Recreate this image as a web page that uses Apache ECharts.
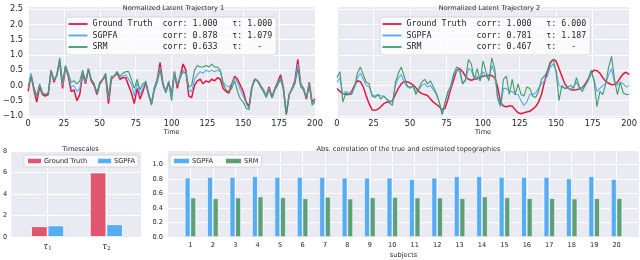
<!DOCTYPE html>
<html><head><meta charset="utf-8">
<script src="https://cdn.jsdelivr.net/npm/echarts@6/dist/echarts.min.js"></script>
<style>html,body{margin:0;padding:0;background:#fff}#c{width:640px;height:260px}</style>
</head><body><div id="c"></div>
<script>
const time = [0,2,4,6,8,10,12,14,16,18,20,22,24,26,28,30,32,34,36,38,40,42,44,46,48,50,52,54,56,58,60,62,64,66,68,70,72,74,76,78,80,82,84,86,88,90,92,94,96,98,100,102,104,106,108,110,112,114,116,118,120,122,124,126,128,130,132,134,136,138,140,142,144,146,148,150,152,154,156,158,160,162,164,166,168,170,172,174,176,178,180,182,184,186,188,190,192,194,196,198,200];

const traj1GT = [-0.2,0.35,-0.15,-0.55,-0.05,-0.3,-0.35,-0.3,0.5,0.1,0.35,0.8,-0.1,0.6,0.3,-0.2,-0.15,-0.5,-0.3,0.4,0.05,0.55,0.15,0.0,-0.3,0.05,0.2,0.3,-0.6,0.2,0.3,0.4,0.2,0.25,0.25,0.0,-0.25,-0.6,-0.1,-0.45,-0.2,0.1,-0.3,-0.6,-0.1,0.2,0.75,0.05,-0.2,0.1,-0.3,0.45,-0.1,0.3,0.7,0.5,-0.35,-0.4,0.0,0.15,0.2,0.05,0.15,0.1,0.2,0.15,0.25,0.2,-0.1,-0.2,-0.25,0.05,0.3,0.2,0.0,-0.2,-0.55,-0.7,-0.05,0.2,0.15,0.0,-0.15,-0.35,-0.05,-0.4,-0.1,0.1,0.35,-0.1,-0.95,-0.3,-0.1,0.15,0.85,0.05,-0.1,-0.45,0.1,-0.55,-0.45];
const traj1SGPFA = [-0.1,0.4,-0.1,-0.4,0.0,-0.25,-0.3,-0.25,0.5,0.15,0.35,0.8,0.0,0.6,0.35,-0.05,0.0,-0.2,-0.1,0.45,0.1,0.55,0.2,0.05,-0.25,0.1,0.2,0.35,-0.45,0.25,0.3,0.45,0.25,0.3,0.35,0.2,0.05,-0.35,0.1,-0.3,-0.1,0.15,-0.25,-0.6,-0.05,0.2,0.6,0.05,-0.2,0.15,-0.35,0.45,0.0,0.3,0.5,0.45,-0.15,-0.2,0.2,0.35,0.45,0.4,0.5,0.45,0.5,0.45,0.5,0.45,0.1,0.0,-0.05,0.05,0.25,0.1,-0.15,-0.35,-0.6,-0.75,-0.05,0.2,0.15,0.0,-0.15,-0.35,-0.1,-0.4,-0.1,0.05,0.25,-0.1,-0.85,-0.3,-0.1,0.1,0.7,0.05,-0.1,-0.4,0.05,-0.6,-0.5];
const traj1SRM = [-0.05,0.3,-0.05,-0.35,0.05,-0.25,-0.3,-0.25,0.45,0.2,0.3,0.9,0.1,0.65,0.4,0.1,0.15,0.05,0.15,0.5,0.15,0.5,0.2,0.05,-0.25,0.1,0.2,0.4,-0.35,0.3,0.3,0.45,0.3,0.4,0.45,0.45,0.2,-0.1,0.2,-0.15,0.05,0.1,-0.3,-0.65,-0.15,0.1,0.5,0.0,-0.25,0.1,-0.5,0.35,0.05,0.25,0.45,0.4,-0.05,0.0,0.5,0.65,0.6,0.6,0.65,0.6,0.7,0.6,0.6,0.5,0.05,-0.15,-0.2,-0.1,0.15,-0.2,-0.45,-0.55,-0.75,-0.8,-0.1,0.2,0.15,-0.05,-0.2,-0.4,-0.15,-0.4,-0.15,0.0,0.2,-0.15,-0.95,-0.3,-0.15,0.05,0.55,-0.05,-0.15,-0.4,0.0,-0.65,-0.55];

const traj2GT = [-0.1,-0.2,-0.27,-0.3,-0.3,-0.2,0.0,0.15,0.12,-0.05,-0.35,-0.6,-0.8,-0.82,-0.78,-0.7,-0.6,-0.55,-0.55,-0.5,-0.3,-0.1,0.05,0.13,0.12,0.08,0.02,-0.08,-0.2,-0.27,-0.3,-0.33,-0.45,-0.55,-0.62,-0.7,-0.8,-0.75,-0.45,-0.1,0.2,0.5,0.55,0.45,0.3,0.2,0.17,0.2,0.22,0.27,0.3,0.32,0.33,0.32,0.25,-0.05,-0.55,-0.68,-0.7,-0.68,-0.68,-0.8,-0.9,-0.93,-0.9,-0.87,-0.85,-0.78,-0.7,-0.55,-0.3,0.1,0.45,0.75,0.85,0.8,0.55,0.3,0.05,-0.08,-0.14,-0.15,-0.14,-0.12,-0.08,0.05,0.2,0.4,0.5,0.48,0.4,0.25,0.13,0.07,0.02,0.03,0.1,0.25,0.38,0.43,0.35];
const traj2SGPFA = [0.1,0.25,-0.3,-0.2,-0.25,-0.25,-0.05,0.25,0.4,0.2,0.0,-0.05,-0.3,-0.35,-0.3,-0.35,-0.35,-0.45,-0.5,-0.55,0.0,0.25,0.35,0.1,-0.05,-0.05,-0.05,-0.2,-0.15,0.0,0.05,-0.05,0.0,-0.15,-0.3,-0.55,-0.95,-0.55,-0.25,-0.05,0.35,0.5,0.45,0.05,0.15,0.55,0.5,0.2,0.3,0.15,0.45,0.3,0.2,0.65,0.4,-0.45,-0.7,-0.1,-0.1,-0.2,-0.2,-0.3,-0.3,-0.5,-0.65,-0.55,-0.3,-0.3,-0.25,-0.1,0.05,0.15,0.3,0.6,0.7,0.5,0.0,-0.05,-0.1,-0.1,-0.12,-0.05,0.1,-0.1,-0.1,0.0,0.15,0.4,0.2,-0.2,-0.1,0.0,0.05,0.35,0.55,0.1,0.0,0.1,0.05,-0.05,0.0];
const traj2SRM = [0.25,0.45,-0.55,-0.25,-0.3,-0.3,-0.05,0.4,0.6,0.35,0.1,0.05,-0.35,-0.4,-0.3,-0.45,-0.35,-0.45,-0.58,-0.65,0.1,0.4,0.6,0.3,0.0,-0.1,0.0,-0.3,-0.1,0.1,0.2,0.05,0.15,-0.05,-0.25,-0.55,-0.95,-0.55,-0.2,0.0,0.4,0.6,0.55,0.05,0.2,0.85,0.7,0.2,0.55,0.15,0.8,0.45,0.15,0.9,0.55,-0.4,-0.65,0.2,0.3,-0.3,0.2,-0.3,0.05,-0.3,-0.35,-0.05,-0.1,-0.35,-0.4,-0.2,0.2,0.3,0.45,0.7,0.85,0.45,-0.5,0.0,-0.1,-0.05,0.0,-0.1,0.25,-0.05,-0.2,0.0,0.2,0.5,0.15,-0.7,-0.2,-0.3,0.05,0.6,0.95,0.2,-0.3,0.1,-0.25,-0.3,-0.3];

const legend1Text = {
  'Ground Truth': 'Ground Truth  corr: 1.000   \u03c4: 1.000',
  'SGPFA':        'SGPFA         corr: 0.878   \u03c4: 1.079',
  'SRM':          'SRM           corr: 0.633   \u03c4:   -'
};
const legend2Text = {
  'Ground Truth': 'Ground Truth  corr: 1.000   \u03c4: 6.000',
  'SGPFA':        'SGPFA         corr: 0.781   \u03c4: 1.187',
  'SRM':          'SRM           corr: 0.467   \u03c4:   -'
};
const trajYTicks = [-1, -0.5, 0, 0.5, 1, 1.5, 2, 2.5];

const tauPos = [0, 1];
const tauSub = ['1', '2'];
const gtTau = [1.0, 6.0];
const sgpfaTau = [1.079, 1.187];

const subjects = [1,2,3,4,5,6,7,8,9,10,11,12,13,14,15,16,17,18,19,20];
const sgpfaCorr = [0.82,0.83,0.83,0.84,0.83,0.83,0.83,0.82,0.82,0.82,0.80,0.82,0.84,0.84,0.83,0.83,0.83,0.81,0.84,0.80];
const srmCorr = [0.545,0.535,0.545,0.56,0.548,0.535,0.555,0.53,0.548,0.553,0.545,0.545,0.537,0.56,0.548,0.537,0.537,0.532,0.537,0.537];
const corrYTicks = [0, 0.2, 0.4, 0.6, 0.8, 1.0];

const RED = '#e3173e', BLUE = '#52a9f3', GREEN = '#419a6c';
const RED_BAR = '#e0566f', BLUE_BAR = '#57acf6', GREEN_BAR = '#5c9f78';
const BG = '#eaeaf2', TXT = '#262626';
const SANS = 'DejaVu Sans';

const pairs = (xs, ys) => xs.map((x, i) => [x, ys[i]]);
const fmtMinus = v => (v < 0 ? '\u2212' : '') + Math.abs(v).toFixed(1);

function lineSeries(name, data, color, w, idx) {
  return {type: 'line', name, data: pairs(time, data), xAxisIndex: idx, yAxisIndex: idx,
    showSymbol: false, symbol: 'none', lineStyle: {color, width: w}, itemStyle: {color}, animation: false};
}
function trajLegend(left, texts) {
  return {left, top: 17, orient: 'vertical', icon: 'rect', itemWidth: 19, itemHeight: 1.8, itemGap: 1.5,
    padding: [2, 4, 3, 2.5], backgroundColor: 'rgba(255,255,255,0.82)', borderColor: '#cfcfd6', borderWidth: 0.8, borderRadius: 3,
    textStyle: {fontFamily: 'DejaVu Sans Mono', fontSize: 8.3, lineHeight: 10, color: TXT},
    selectedMode: false,
    data: [{name: 'Ground Truth', itemStyle: {color: RED}}, {name: 'SGPFA', itemStyle: {color: BLUE}}, {name: 'SRM', itemStyle: {color: GREEN}}],
    formatter: n => texts[n]};
}
const split = {show: true, lineStyle: {color: '#ffffff', width: 0.9}};

const option = {
  animation: false,
  textStyle: {fontFamily: SANS},
  title: [
    {text: 'Normalized Latent Trajectory 1', left: 168.5, top: 0, textAlign: 'center', textStyle: {fontSize: 6.6, fontWeight: 'normal', color: TXT, fontFamily: SANS}},
    {text: 'Normalized Latent Trajectory 2', left: 484.5, top: 0, textAlign: 'center', textStyle: {fontSize: 6.6, fontWeight: 'normal', color: TXT, fontFamily: SANS}},
    {text: 'Timescales', left: 75.5, top: 141, textAlign: 'center', textStyle: {fontSize: 6.6, fontWeight: 'normal', color: TXT, fontFamily: SANS}},
    {text: 'Abs. correlation of the true and estimated topographies', left: 403.5, top: 141, textAlign: 'center', textStyle: {fontSize: 6.6, fontWeight: 'normal', color: TXT, fontFamily: SANS}}
  ],
  grid: [
    {left: 22, width: 293, top: 7, height: 111, show: true, backgroundColor: BG, borderWidth: 0},
    {left: 337, width: 295, top: 7, height: 111, show: true, backgroundColor: BG, borderWidth: 0},
    {left: 10, width: 131, top: 151, height: 86, show: true, backgroundColor: BG, borderWidth: 0},
    {left: 168, width: 471, top: 151, height: 86, show: true, backgroundColor: BG, borderWidth: 0}
  ],
  xAxis: [
    {gridIndex: 0, type: 'value', min: 0, max: 200, interval: 25, name: 'Time', nameLocation: 'middle', nameGap: 11,
      nameTextStyle: {fontSize: 6.6, color: TXT}, axisLine: {show: false}, axisTick: {show: false},
      axisLabel: {fontSize: 8.3, color: TXT, margin: 2}, splitLine: split},
    {gridIndex: 1, type: 'value', min: 0, max: 200, interval: 25, name: 'Time', nameLocation: 'middle', nameGap: 11,
      nameTextStyle: {fontSize: 6.6, color: TXT}, axisLine: {show: false}, axisTick: {show: false},
      axisLabel: {fontSize: 8.3, color: TXT, margin: 2}, splitLine: split},
    {gridIndex: 2, type: 'value', min: -0.62, max: 1.59, axisLine: {show: false},
      axisTick: {show: false, customValues: tauPos},
      axisLabel: {customValues: tauPos, margin: 5, formatter: v => '{t|\u03c4}{s|' + tauSub[Math.round(v)] + '}',
        rich: {t: {fontFamily: 'DejaVu Serif', fontStyle: 'italic', fontSize: 8.5, color: TXT},
               s: {fontFamily: 'DejaVu Serif', fontSize: 5.5, color: TXT, padding: [4, 0, 0, 0]}}},
      splitLine: split},
    {gridIndex: 3, type: 'value', min: 0, max: 21, name: 'subjects', nameLocation: 'middle', nameGap: 15,
      nameTextStyle: {fontSize: 6.6, color: TXT}, axisLine: {show: false},
      axisTick: {show: false, customValues: subjects},
      axisLabel: {customValues: subjects, fontSize: 6.6, color: TXT, margin: 5}, splitLine: split}
  ],
  yAxis: [
    {gridIndex: 0, type: 'value', min: -1.07, max: 2.57, axisLine: {show: false},
      axisTick: {show: false, customValues: trajYTicks},
      axisLabel: {customValues: trajYTicks, fontSize: 8.3, color: TXT, margin: 5, formatter: fmtMinus}, splitLine: split},
    {gridIndex: 1, type: 'value', min: -1.07, max: 2.57, axisLine: {show: false},
      axisTick: {show: false, customValues: trajYTicks},
      axisLabel: {show: false, customValues: trajYTicks}, splitLine: split},
    {gridIndex: 2, type: 'value', min: 0, max: 8, interval: 2, axisLine: {show: false}, axisTick: {show: false},
      axisLabel: {fontSize: 6.6, color: TXT, margin: 4}, splitLine: split},
    {gridIndex: 3, type: 'value', min: 0, max: 1.19, axisLine: {show: false},
      axisTick: {show: false, customValues: corrYTicks},
      axisLabel: {customValues: corrYTicks, fontSize: 6.6, color: TXT, margin: 5, formatter: v => v.toFixed(1)}, splitLine: split}
  ],
  legend: [
    trajLegend(66, legend1Text),
    trajLegend(380, legend2Text),
    {left: 24, top: 155, orient: 'horizontal', icon: 'rect', itemWidth: 13, itemHeight: 4.5, itemGap: 11,
      padding: [2.5, 3, 2.5, 4], backgroundColor: 'rgba(255,255,255,0.82)', borderColor: '#cfcfd6', borderWidth: 0.8, borderRadius: 2,
      textStyle: {fontSize: 6.6, color: TXT, fontFamily: SANS, padding: [0, 0, 0, -2]}, selectedMode: false,
      data: [{name: 'Ground Truth', itemStyle: {color: RED_BAR}}, {name: 'SGPFA', itemStyle: {color: BLUE_BAR}}]},
    {left: 170, top: 155, orient: 'horizontal', icon: 'rect', itemWidth: 15, itemHeight: 4.5, itemGap: 13,
      padding: [2.5, 3, 2.5, 4], backgroundColor: 'rgba(255,255,255,0.82)', borderColor: '#cfcfd6', borderWidth: 0.8, borderRadius: 2,
      textStyle: {fontSize: 6.6, color: TXT, fontFamily: SANS, padding: [0, 0, 0, -2]}, selectedMode: false,
      data: [{name: 'SGPFA', itemStyle: {color: BLUE_BAR}}, {name: 'SRM', itemStyle: {color: GREEN_BAR}}]}
  ],
  series: [
    lineSeries('Ground Truth', traj1GT, RED, 1.5, 0),
    lineSeries('SGPFA', traj1SGPFA, BLUE, 1.1, 0),
    lineSeries('SRM', traj1SRM, GREEN, 1.1, 0),
    lineSeries('Ground Truth', traj2GT, RED, 1.5, 1),
    lineSeries('SGPFA', traj2SGPFA, BLUE, 1.1, 1),
    lineSeries('SRM', traj2SRM, GREEN, 1.1, 1),
    {type: 'bar', name: 'Ground Truth', xAxisIndex: 2, yAxisIndex: 2, data: pairs(tauPos, gtTau), barWidth: 16.5, barGap: '0%',
      itemStyle: {color: RED_BAR, borderColor: '#fff', borderWidth: 0.8}},
    {type: 'bar', name: 'SGPFA', xAxisIndex: 2, yAxisIndex: 2, data: pairs(tauPos, sgpfaTau), barWidth: 16.5, barGap: '0%',
      itemStyle: {color: BLUE_BAR, borderColor: '#fff', borderWidth: 0.8}},
    {type: 'bar', name: 'SGPFA', xAxisIndex: 3, yAxisIndex: 3, data: pairs(subjects, sgpfaCorr), barWidth: 5.6, barGap: '0%',
      itemStyle: {color: BLUE_BAR, borderColor: '#fff', borderWidth: 0.6}},
    {type: 'bar', name: 'SRM', xAxisIndex: 3, yAxisIndex: 3, data: pairs(subjects, srmCorr), barWidth: 5.6, barGap: '0%',
      itemStyle: {color: GREEN_BAR, borderColor: '#fff', borderWidth: 0.6}}
  ]
};
const chart = echarts.init(document.getElementById('c'), null, {renderer: 'canvas'});
chart.setOption(option);
</script></body></html>
